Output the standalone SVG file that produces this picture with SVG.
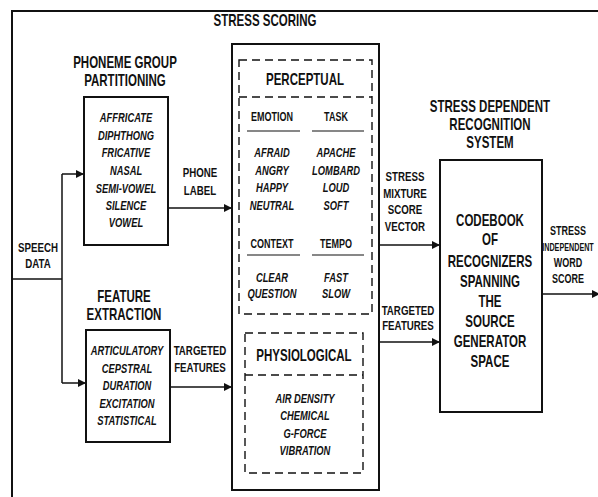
<svg xmlns="http://www.w3.org/2000/svg" width="598" height="497" viewBox="0 0 598 497">
<style>
.box{fill:none;stroke:#111;stroke-width:2}
.dash{fill:none;stroke:#111;stroke-width:1.4;stroke-dasharray:8 5}
.ln{fill:none;stroke:#111;stroke-width:1.5}
.ul{fill:none;stroke:#111;stroke-width:1.2}
text{font-family:"Liberation Sans",Arial,sans-serif;font-weight:bold;fill:#111;text-anchor:middle}
.t{font-size:16px}
.l{font-size:13.5px}
.h{font-size:12.5px}
.i{font-size:13px;font-style:italic}
</style>
<defs>
<marker id="ah" viewBox="0 0 10 10" refX="10" refY="5" markerWidth="8" markerHeight="8" markerUnits="userSpaceOnUse" orient="auto">
<path d="M0,0 L10,5 L0,10 z" fill="#111"/>
</marker>
</defs>
<rect width="598" height="497" fill="#fff"/>
<path class="box" d="M12,497 V11 H598"/>

<g id="connectors">
<path class="ln" d="M12,279 H62"/>
<path class="ln" d="M62,174 V383"/>
<path class="ln" d="M62,174 H84" marker-end="url(#ah)"/>
<path class="ln" d="M62,383 H86" marker-end="url(#ah)"/>
<path class="ln" d="M168,208 H232" marker-end="url(#ah)"/>
<path class="ln" d="M170,387 H232" marker-end="url(#ah)"/>
<path class="ln" d="M379,245 H440" marker-end="url(#ah)"/>
<path class="ln" d="M379,342 H440" marker-end="url(#ah)"/>
<path class="ln" d="M542,294 H600" marker-end="url(#ah)"/>
</g>

<g id="stress-scoring">
<rect class="box" x="232" y="44" width="147" height="446"/>
</g>
<g id="perceptual">
<rect class="dash" x="239" y="60" width="133" height="254"/>
<path class="dash" d="M239,97 H372"/>
<path class="ul" d="M247,131 H300 M312,131 H364 M247,255 H300 M312,255 H364"/>
</g>
<g id="physiological">
<rect class="dash" x="245" y="333" width="118" height="140"/>
<path class="dash" d="M245,375 H363"/>
</g>
<g id="phoneme-group">
<rect class="box" x="84" y="97" width="84" height="148"/>
</g>
<g id="feature-extraction">
<rect class="box" x="86" y="330" width="84" height="112"/>
</g>
<g id="codebook">
<rect class="box" x="440" y="160" width="102" height="252"/>
</g>

<g id="labels" transform="scale(0.72 1)">
<text class="t" x="368.06" y="26">STRESS  SCORING</text>
<text class="t" x="173.61" y="68">PHONEME  GROUP</text>
<text class="t" x="173.61" y="86">PARTITIONING</text>
<g class="i">
<text x="175" y="122">AFFRICATE</text>
<text x="175" y="140">DIPHTHONG</text>
<text x="175" y="157">FRICATIVE</text>
<text x="175" y="175">NASAL</text>
<text x="175" y="193">SEMI-VOWEL</text>
<text x="175" y="210">SILENCE</text>
<text x="175" y="227">VOWEL</text>
</g>
<text class="l" x="52.78" y="252">SPEECH</text>
<text class="l" x="52.78" y="268">DATA</text>
<text class="t" x="172.22" y="302">FEATURE</text>
<text class="t" x="172.22" y="320">EXTRACTION</text>
<g class="i">
<text x="176.39" y="355">ARTICULATORY</text>
<text x="176.39" y="373">CEPSTRAL</text>
<text x="176.39" y="390">DURATION</text>
<text x="176.39" y="408">EXCITATION</text>
<text x="176.39" y="425">STATISTICAL</text>
</g>
<text class="l" x="277.78" y="177">PHONE</text>
<text class="l" x="277.78" y="195">LABEL</text>
<text class="l" x="277.78" y="355">TARGETED</text>
<text class="l" x="277.78" y="372">FEATURES</text>

<text class="t" x="423.61" y="85">PERCEPTUAL</text>
<text class="h" x="377.78" y="121">EMOTION</text>
<text class="h" x="466.67" y="121">TASK</text>
<g class="i">
<text x="377.78" y="157">AFRAID</text>
<text x="377.78" y="175">ANGRY</text>
<text x="377.78" y="192">HAPPY</text>
<text x="377.78" y="210">NEUTRAL</text>
<text x="466.67" y="157">APACHE</text>
<text x="466.67" y="175">LOMBARD</text>
<text x="466.67" y="192">LOUD</text>
<text x="466.67" y="210">SOFT</text>
</g>
<text class="h" x="377.78" y="248">CONTEXT</text>
<text class="h" x="466.67" y="248">TEMPO</text>
<g class="i">
<text x="377.78" y="282">CLEAR</text>
<text x="377.78" y="298">QUESTION</text>
<text x="466.67" y="282">FAST</text>
<text x="466.67" y="298">SLOW</text>
</g>
<text class="t" x="422.22" y="361">PHYSIOLOGICAL</text>
<g class="i">
<text x="423.61" y="403">AIR DENSITY</text>
<text x="423.61" y="420">CHEMICAL</text>
<text x="423.61" y="438">G-FORCE</text>
<text x="423.61" y="455">VIBRATION</text>
</g>

<text class="l" x="562.5" y="181">STRESS</text>
<text class="l" x="562.5" y="198">MIXTURE</text>
<text class="l" x="562.5" y="214">SCORE</text>
<text class="l" x="562.5" y="231">VECTOR</text>
<text class="l" x="566.67" y="315">TARGETED</text>
<text class="l" x="566.67" y="330">FEATURES</text>

<text class="t" x="680.56" y="112">STRESS  DEPENDENT</text>
<text class="t" x="680.56" y="130">RECOGNITION</text>
<text class="t" x="680.56" y="148">SYSTEM</text>
<g class="t">
<text x="680.56" y="226">CODEBOOK</text>
<text x="680.56" y="245">OF</text>
<text x="680.56" y="267">RECOGNIZERS</text>
<text x="680.56" y="287">SPANNING</text>
<text x="680.56" y="307">THE</text>
<text x="680.56" y="327">SOURCE</text>
<text x="680.56" y="347">GENERATOR</text>
<text x="680.56" y="367">SPACE</text>
</g>
<text class="h" x="788.89" y="235">STRESS</text>
<text x="788.89" y="251" style="font-size:10px">INDEPENDENT</text>
<text class="h" x="788.89" y="267">WORD</text>
<text class="h" x="788.89" y="283">SCORE</text>
</g>
</svg>
